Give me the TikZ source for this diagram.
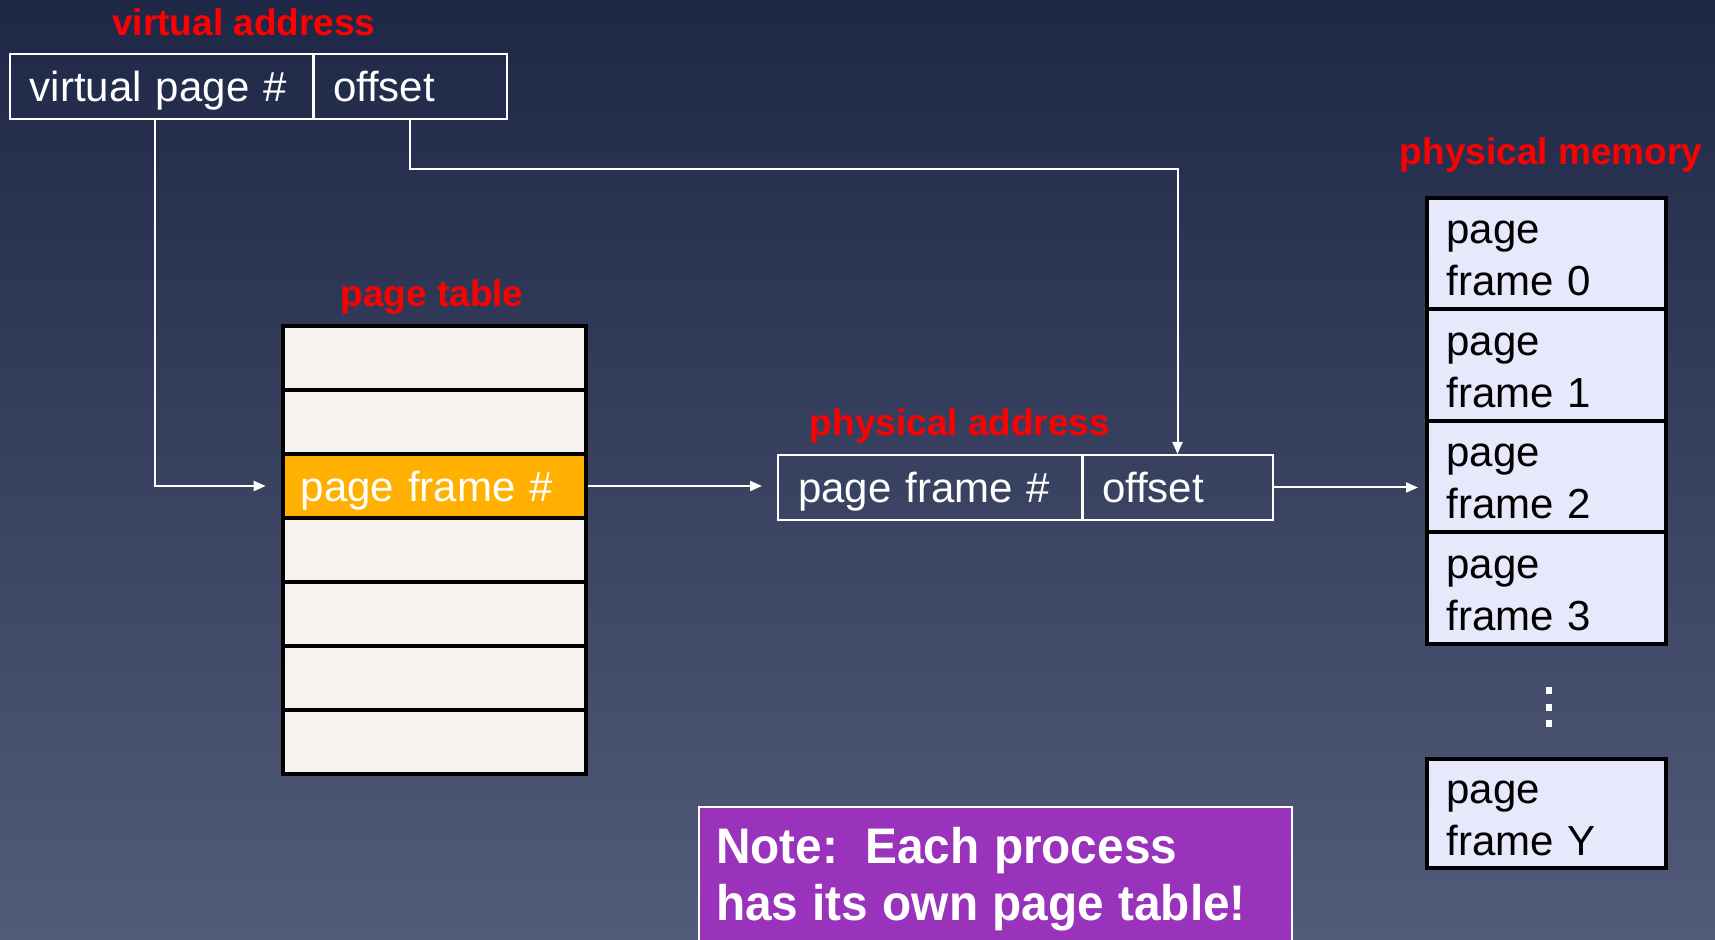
\documentclass[tikz,border=0pt]{standalone}
\usepackage{fontspec}
\setmainfont{Liberation Sans}
\newfontfamily\notefont[FakeStretch=0.955]{Liberation Sans}
\usetikzlibrary{arrows.meta,calc}
\definecolor{bgtop}{RGB}{30,40,70}
\definecolor{bgbot}{RGB}{82,92,122}
\definecolor{ptfill}{RGB}{245,242,240}
\definecolor{ptsel}{RGB}{255,176,0}
\definecolor{memfill}{RGB}{232,232,252}
\definecolor{notefill}{RGB}{153,51,187}
\definecolor{lblred}{RGB}{255,0,0}
% single text lines with a fixed height and no depth
\newcommand{\cellline}[1]{\raisebox{0pt}[15.3pt][0pt]{#1}}
\newcommand{\lblline}[1]{\raisebox{0pt}[13.5pt][0pt]{#1}}
\newcommand{\memtop}{\rule{0pt}{16.25pt}}
% word spaces for the note
\newcommand{\notespacing}{\spaceskip=7.2pt plus 1pt\relax}

\begin{document}
\begin{tikzpicture}[x=0.5pt,y=-0.5pt,
  addrcell/.style={draw=white, line width=1pt, anchor=north west,
    minimum height=32.5pt, inner xsep=10pt, inner ysep=0pt, align=left,
    text=white, font=\fontsize{21}{25}\selectfont},
  ptrow/.style={draw=black, line width=2pt, fill=ptfill, anchor=north west,
    text width=133.5pt, inner xsep=9pt, inner ysep=0pt, minimum height=32pt,
    align=left, text=white, font=\fontsize{21}{25}\selectfont},
  memcell/.style={draw=black, line width=2pt, fill=memfill, anchor=north west,
    text width=99.9pt, inner xsep=9.8pt, inner ysep=0pt, minimum height=55.75pt,
    align=left, text=black, font=\fontsize{21}{26}\selectfont},
  redlabel/.style={text=lblred, font=\bfseries\fontsize{18.5}{22}\selectfont, inner sep=0pt},
  conn/.style={draw=white, line width=1pt, -{Triangle[length=6pt,width=5pt]}}]

% backdrop
\useasboundingbox (0,0) rectangle (1715,940);
\shade[top color=bgtop, bottom color=bgbot] (0,0) rectangle (1715,940);

% virtual address
\node[redlabel] (lblva) at (244,22.2) {\lblline{virtual address}};
\node[addrcell, text width=132pt] (vpn) at (9,53) {\cellline{virtual page \#}};
\node[addrcell, text width=77pt] (voff) at (312,53) {\cellline{offset}};

% page table (anchors sit on the outer edge of the 2pt borders)
\node[redlabel] (lblpt) at (432,293.2) {\lblline{page table}};
\foreach \i in {1,2,4,5,6,7}
  \node[ptrow] (pt\i) at (280.7,{324+(\i-1)*64}) {};
\node[ptrow, fill=ptsel] (pt3) at (280.7,{324+2*64}) {\cellline{page frame \#}};

% physical address
\node[redlabel] (lblpa) at (960,422.2) {\lblline{physical address}};
\node[addrcell, text width=132.5pt] (pfn) at (777,454) {\cellline{page frame \#}};
\node[addrcell, text width=75.5pt] (poff) at (1081,454) {\cellline{offset}};

% physical memory
\node[redlabel] (lblpm) at (1551,150.8) {\lblline{physical memory}};
\node[memcell] (mem0) at (1425,196) {\memtop page\\frame 0};
\node[memcell] (mem1) at (1425,307.5) {\memtop page\\frame 1};
\node[memcell] (mem2) at (1425,419) {\memtop page\\frame 2};
\node[memcell] (mem3) at (1425,530.5) {\memtop page\\frame 3};
\node[memcell, minimum height=54.65pt] (memY) at (1425,756.7) {\memtop page\\frame Y};

% vertical ellipsis between the frames
\fill[white] (1546,687) rectangle (1552,694);
\fill[white] (1546,704) rectangle (1552,711);
\fill[white] (1546,720) rectangle (1552,727);

% translation paths
\draw[conn, shorten >=7.5pt] ($(vpn.south west)!0.477!(vpn.south east)$) |- (pt3.west);
\draw[conn] (voff.south) -- ++(0,49.5) -| (poff.north);
\draw[conn, shorten >=7.5pt] (pt3.east) -- (pt3.east -| pfn.west);
\draw[conn, shorten >=3.5pt] (poff.east) -- (poff.east -| mem2.west);

% note
\node[draw=white, line width=1pt, fill=notefill, anchor=north west,
  text width=279.5pt, inner xsep=8.5pt, inner ysep=10pt,
  align=left, text=white,
  font=\notefont\bfseries\fontsize{25}{28.5}\selectfont]
  (note) at (698,806) {\notespacing Note:\hspace{0.55em}Each process\\has its own page table!};
\end{tikzpicture}
\end{document}
